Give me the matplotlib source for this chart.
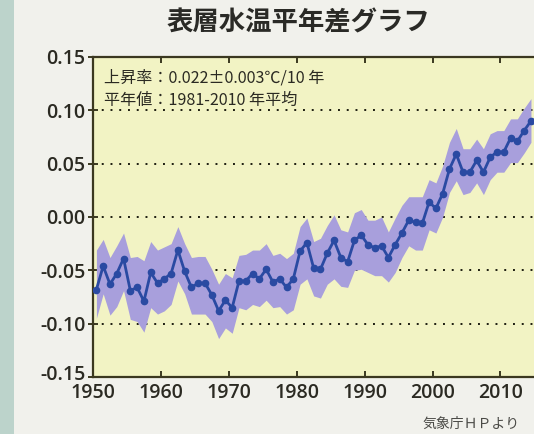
import matplotlib
matplotlib.use("Agg")
import matplotlib.pyplot as plt
import matplotlib.transforms as mtransforms
import numpy as np

# annual surface water temperature anomaly (deg C)
years = np.arange(1950, 2015)
anomaly = [-0.068, -0.046, -0.063, -0.053, -0.039, -0.069, -0.066, -0.079, -0.052, -0.062,
           -0.058, -0.053, -0.031, -0.051, -0.066, -0.062, -0.062, -0.073, -0.088, -0.078,
           -0.085, -0.060, -0.060, -0.053, -0.058, -0.049, -0.061, -0.058, -0.066, -0.058,
           -0.032, -0.024, -0.048, -0.049, -0.034, -0.022, -0.038, -0.042, -0.022, -0.017,
           -0.026, -0.029, -0.027, -0.038, -0.026, -0.015, -0.003, -0.005, -0.006, 0.014,
           0.008, 0.022, 0.045, 0.059, 0.042, 0.042, 0.053, 0.042, 0.056, 0.061,
           0.061, 0.074, 0.071, 0.081, 0.090]
upper = [-0.031, -0.021, -0.038, -0.027, -0.015, -0.038, -0.037, -0.041, -0.023, -0.031,
         -0.028, -0.025, -0.009, -0.025, -0.038, -0.037, -0.037, -0.049, -0.063, -0.053,
         -0.057, -0.036, -0.035, -0.031, -0.031, -0.025, -0.036, -0.034, -0.039, -0.034,
         -0.009, -0.001, -0.023, -0.020, -0.008, 0.002, -0.012, -0.014, 0.004, 0.007,
         -0.003, -0.003, 0.000, -0.014, -0.001, 0.011, 0.019, 0.019, 0.019, 0.035,
         0.032, 0.048, 0.070, 0.083, 0.064, 0.064, 0.073, 0.064, 0.078, 0.081,
         0.081, 0.092, 0.092, 0.102, 0.111]
lower = [-0.095, -0.072, -0.092, -0.084, -0.069, -0.096, -0.098, -0.108, -0.085, -0.091,
         -0.088, -0.082, -0.060, -0.072, -0.091, -0.091, -0.091, -0.098, -0.114, -0.104,
         -0.109, -0.085, -0.087, -0.082, -0.084, -0.078, -0.085, -0.084, -0.091, -0.087,
         -0.063, -0.058, -0.074, -0.076, -0.063, -0.058, -0.065, -0.066, -0.050, -0.049,
         -0.052, -0.055, -0.055, -0.061, -0.052, -0.038, -0.027, -0.031, -0.031, -0.012,
         -0.015, 0.000, 0.023, 0.034, 0.021, 0.023, 0.032, 0.021, 0.035, 0.042,
         0.042, 0.051, 0.051, 0.060, 0.070]

xticks = [1950, 1960, 1970, 1980, 1990, 2000, 2010]
yticks = [-0.15, -0.10, -0.05, 0.00, 0.05, 0.10, 0.15]

title = "表層水温平年差グラフ"
note1 = "上昇率：0.022±0.003℃/10 年"
note2 = "平年値：1981-2010 年平均"
source = "気象庁ＨＰより"

jp = ["Noto Sans CJK JP", "DejaVu Sans"]
num_font = "Open Sans"
ink = "#2b2a22"

W, H = 534, 434
fig = plt.figure(figsize=(W / 100, H / 100), dpi=100)
fig.patch.set_facecolor("#f1f1ec")
# greenish strip on the left edge of the scanned page
fig.patches.append(plt.Rectangle((0, 0), 14 / W, 1, transform=fig.transFigure,
                                 facecolor="#bcd3cb", edgecolor="none", zorder=0))

px_per_year = 6.79
x0, x1 = 1950, 2018
ax = fig.add_axes([93 / W, (H - 377) / H, (x1 - x0) * px_per_year / W, 320 / H])
ax.set_facecolor("#f2f3c4")

xs = years + 0.5
ax.fill_between(xs, lower, upper, color="#a89fdc", linewidth=0, zorder=2)
ax.plot(xs, anomaly, color="#2a4aa2", lw=2.0, marker="o", ms=4.5, zorder=3)

ax.set_xlim(x0, x1)
ax.set_ylim(-0.15, 0.15)
ax.set_xticks(xticks)
ax.set_yticks(yticks)
ax.set_yticklabels(["%.2f" % v for v in yticks])

for v in yticks[1:-1]:
    ax.axhline(v, color="#1d1d10", lw=1.4, linestyle=(0, (1, 3.5)), zorder=1)

for s in ax.spines.values():
    s.set_color("#3b3820")
    s.set_linewidth(1.6)

ax.tick_params(axis="x", direction="in", length=4, width=1.4, color="#3b3820",
               top=True, pad=4, labelsize=14, labelcolor=ink)
ax.tick_params(axis="y", direction="inout", length=7, width=1.4, color="#3b3820",
               pad=2, labelsize=14, labelcolor=ink)
for lab in ax.get_xticklabels() + ax.get_yticklabels():
    lab.set_fontfamily(num_font)
    lab.set_fontweight("semibold")
# lift the bottom y label a little so it clears the 1950 label
bottom_lab = ax.get_yticklabels()[0]
bottom_lab.set_transform(bottom_lab.get_transform() +
                         mtransforms.ScaledTranslation(0, 5 / 100, fig.dpi_scale_trans))

fig.text(298 / W, 1 - 23 / H, title, family=jp, fontsize=19, fontweight="bold",
         color="#2a2a26", ha="center", va="center")
fig.text(104 / W, 1 - 78 / H, note1, family=jp, fontsize=11.6, color=ink,
         ha="left", va="center")
fig.text(104 / W, 1 - 100 / H, note2, family=jp, fontsize=11.6, color=ink,
         ha="left", va="center")
fig.text(422 / W, 1 - 424 / H, source, family=jp, fontsize=10, color="#4a4a46",
         ha="left", va="center")

fig.savefig("out.png", dpi=100, facecolor=fig.get_facecolor())
